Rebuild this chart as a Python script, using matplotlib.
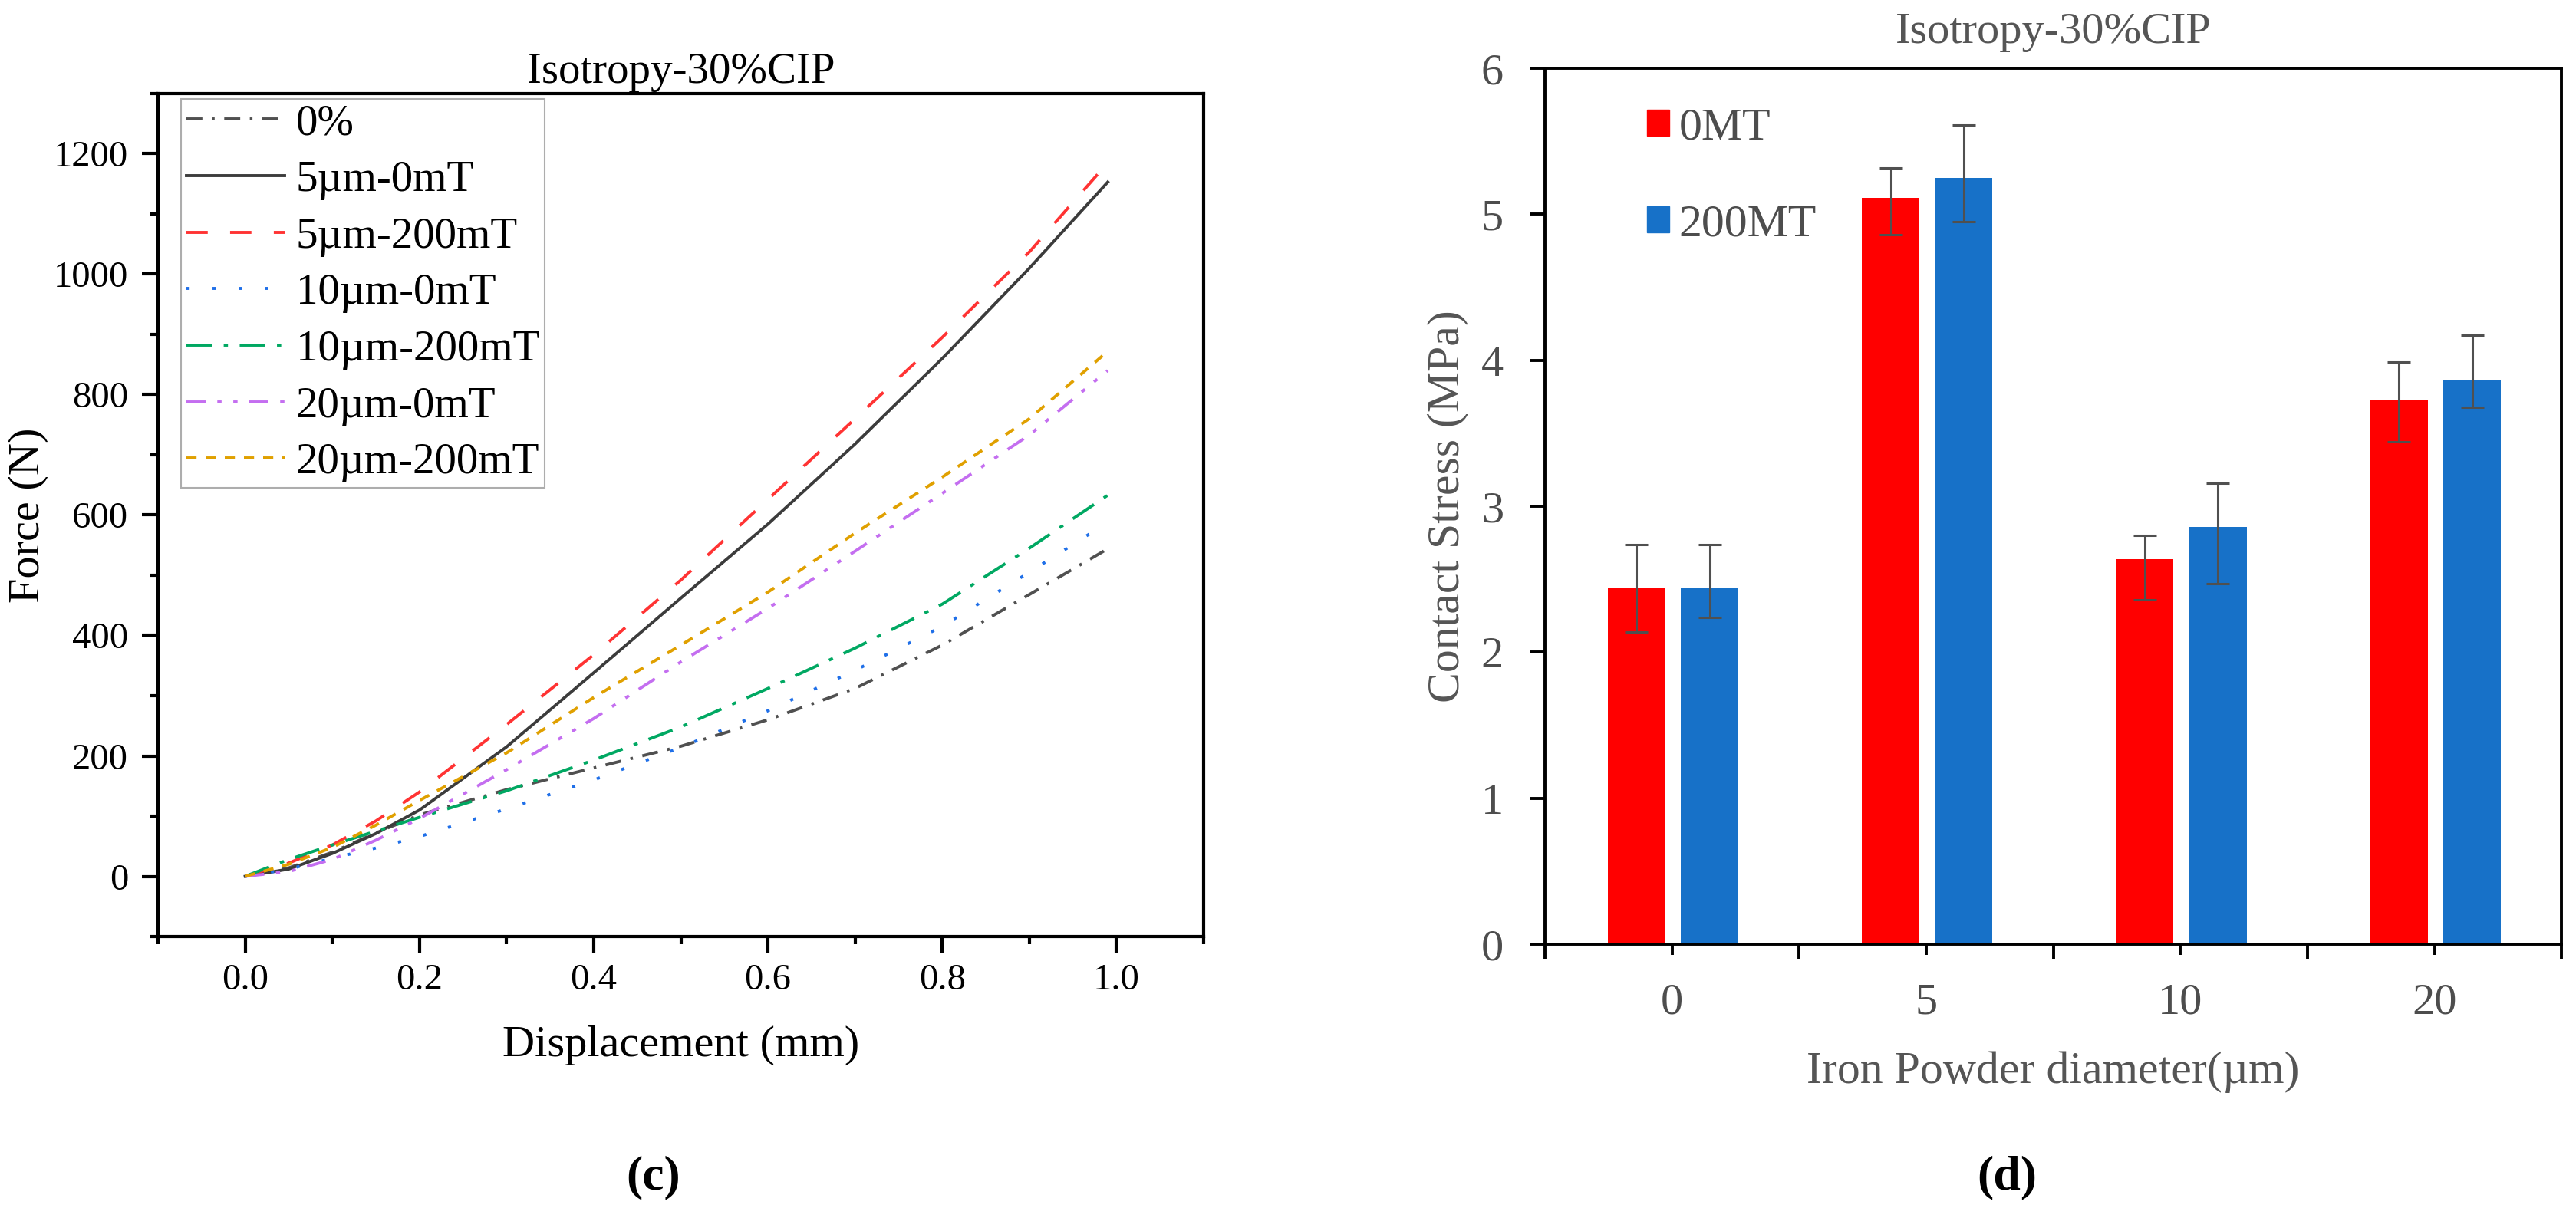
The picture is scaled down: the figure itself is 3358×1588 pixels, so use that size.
import matplotlib
matplotlib.use("Agg")
import matplotlib.pyplot as plt
from matplotlib.ticker import MultipleLocator, FixedLocator
from matplotlib.patches import Patch

plt.rcParams['font.family'] = ['Liberation Serif', 'DejaVu Serif']
plt.rcParams['lines.scale_dashes'] = False

# ---- data: (c) force-displacement curves ----
disp = [0, 0.05, 0.1, 0.15, 0.2, 0.3, 0.4, 0.5, 0.6, 0.7, 0.8, 0.9, 0.99]
f_0 = [0, 14, 40, 72, 102, 144, 180, 216, 260, 312, 384, 468, 544]
f_5_0 = [0, 12, 38, 71, 110, 215, 338, 462, 585, 718, 860, 1010, 1153]
f_5_200 = [0, 22, 52, 92, 140, 252, 368, 492, 626, 760, 895, 1037, 1185]
f_10_0 = [0, 12, 30, 47, 66, 112, 160, 214, 275, 342, 415, 505, 588]
f_10_200 = [0, 28, 52, 75, 98, 142, 193, 248, 312, 379, 452, 545, 633]
f_20_0 = [0, 8, 28, 60, 96, 177, 262, 356, 445, 540, 636, 733, 840]
f_20_200 = [0, 20, 48, 85, 126, 205, 297, 384, 472, 570, 663, 760, 872]

curve_labels = ['0%', '5µm-0mT', '5µm-200mT', '10µm-0mT',
                '10µm-200mT', '20µm-0mT', '20µm-200mT']

# ---- data: (d) contact stress bars ----
diam_labels = ['0', '5', '10', '20']
stress_0mt = [2.44, 5.11, 2.64, 3.73]
stress_200mt = [2.44, 5.25, 2.86, 3.86]
err_0mt_low = [0.30, 0.25, 0.28, 0.29]
err_0mt_high = [0.30, 0.21, 0.16, 0.26]
err_200mt_low = [0.20, 0.30, 0.39, 0.18]
err_200mt_high = [0.30, 0.36, 0.30, 0.31]

fig = plt.figure(figsize=(33.58, 15.88), dpi=100)

# ================= left panel =================
ax1 = fig.add_axes([0.06135, 0.2311, 0.4059, 0.6921])

styles = [
    dict(color='#505050', dashes=(15, 9, 2.5, 9)),
    dict(color='#3c3c3c', linestyle='-'),
    dict(color='#ff3333', dashes=(20, 21)),
    dict(color='#1f6fe8', dashes=(3, 21.5)),
    dict(color='#00a862', dashes=(24, 11, 4, 11)),
    dict(color='#c46ef0', dashes=(18, 11, 4, 11, 4, 11)),
    dict(color='#e0a000', dashes=(9.5, 8.5)),
]
series = [f_0, f_5_0, f_5_200, f_10_0, f_10_200, f_20_0, f_20_200]
for vals, lab, st in zip(series, curve_labels, styles):
    ax1.plot(disp, vals, label=lab, lw=2.8, **st)

ax1.set_xlim(-0.1, 1.1)
ax1.set_ylim(-100, 1300)
ax1.xaxis.set_major_locator(MultipleLocator(0.2))
ax1.xaxis.set_minor_locator(MultipleLocator(0.1))
ax1.yaxis.set_major_locator(MultipleLocator(200))
ax1.yaxis.set_minor_locator(MultipleLocator(100))
ax1.tick_params(which='both', direction='out', top=False, right=False,
                width=3, labelsize=35, colors='black')
ax1.tick_params(which='major', length=15)
ax1.tick_params(which='minor', length=7.5)
ax1.tick_params(axis='x', pad=10)
ax1.tick_params(axis='y', pad=13)
ax1.xaxis.set_major_formatter(matplotlib.ticker.FormatStrFormatter('%.1f'))
for sp in ax1.spines.values():
    sp.set_linewidth(3)

ax1.set_title('Isotropy-30%CIP', fontsize=41, pad=10)
ax1.set_xlabel('Displacement (mm)', fontsize=42)
ax1.set_ylabel('Force (N)', fontsize=42)
ax1.xaxis.set_label_coords(0.5, -0.105)
ax1.yaxis.set_label_coords(-0.105, 0.5)

leg1 = ax1.legend(loc='upper left', bbox_to_anchor=(0.022, 0.994),
                  borderaxespad=0, fontsize=41, frameon=True, fancybox=False,
                  edgecolor='#999999', handlelength=2.25, handletextpad=0.26,
                  labelspacing=0.38, borderpad=0.12)
leg1.get_frame().set_linewidth(1.5)

fig.text(852 / 3358, 1 - 1535 / 1588, '(c)', fontsize=46, fontweight='bold',
         ha='center', va='center')

# ================= right panel =================
ax2 = fig.add_axes([0.5998, 0.2248, 0.3946, 0.7191])
pos = list(range(len(diam_labels)))
bw = 0.226
gray = '#505050'
ax2.bar([p - 0.14 for p in pos], stress_0mt, width=bw, color='#ff0000',
        yerr=[err_0mt_low, err_0mt_high], ecolor=gray,
        error_kw=dict(elinewidth=2.2, capsize=11, capthick=2.2),
        label='0MT')
ax2.bar([p + 0.148 for p in pos], stress_200mt, width=bw, color='#1771c8',
        yerr=[err_200mt_low, err_200mt_high], ecolor=gray,
        error_kw=dict(elinewidth=2.2, capsize=11, capthick=2.2),
        label='200MT')

ax2.set_xlim(-0.5, 3.5)
ax2.set_ylim(0, 6)
ax2.set_xticks(pos)
ax2.set_xticklabels(diam_labels)
ax2.xaxis.set_minor_locator(FixedLocator([-0.5, 0.5, 1.5, 2.5, 3.5]))
ax2.yaxis.set_major_locator(MultipleLocator(1))
ax2.tick_params(which='both', direction='out', top=False, right=False,
                width=2.8, labelsize=42, labelcolor='#4d4d4d')
ax2.tick_params(axis='y', which='major', length=14, pad=25)
ax2.tick_params(axis='x', which='major', length=10, pad=26)
ax2.tick_params(axis='x', which='minor', length=14)
for sp in ax2.spines.values():
    sp.set_linewidth(2.8)

ax2.set_title('Isotropy-30%CIP', fontsize=42, pad=24, color='#555555')
ax2.set_xlabel('Iron Powder diameter(µm)', fontsize=43, color='#555555')
ax2.set_ylabel('Contact Stress (MPa)', fontsize=43, color='#555555')
ax2.xaxis.set_label_coords(0.5, -0.122)
ax2.yaxis.set_label_coords(-0.075, 0.5)

ax2.legend(handles=[Patch(color='#ff0000', label='0MT'),
                    Patch(color='#1771c8', label='200MT')],
           loc='upper left', bbox_to_anchor=(0.1, 0.955), borderaxespad=0,
           frameon=False, fontsize=43, handlelength=0.5, handleheight=0.5,
           handletextpad=0.2, labelspacing=1.2, borderpad=0,
           labelcolor='#4d4d4d')

fig.text(2616 / 3358, 1 - 1535 / 1588, '(d)', fontsize=46, fontweight='bold',
         ha='center', va='center')

fig.savefig('out.png', dpi=100)
